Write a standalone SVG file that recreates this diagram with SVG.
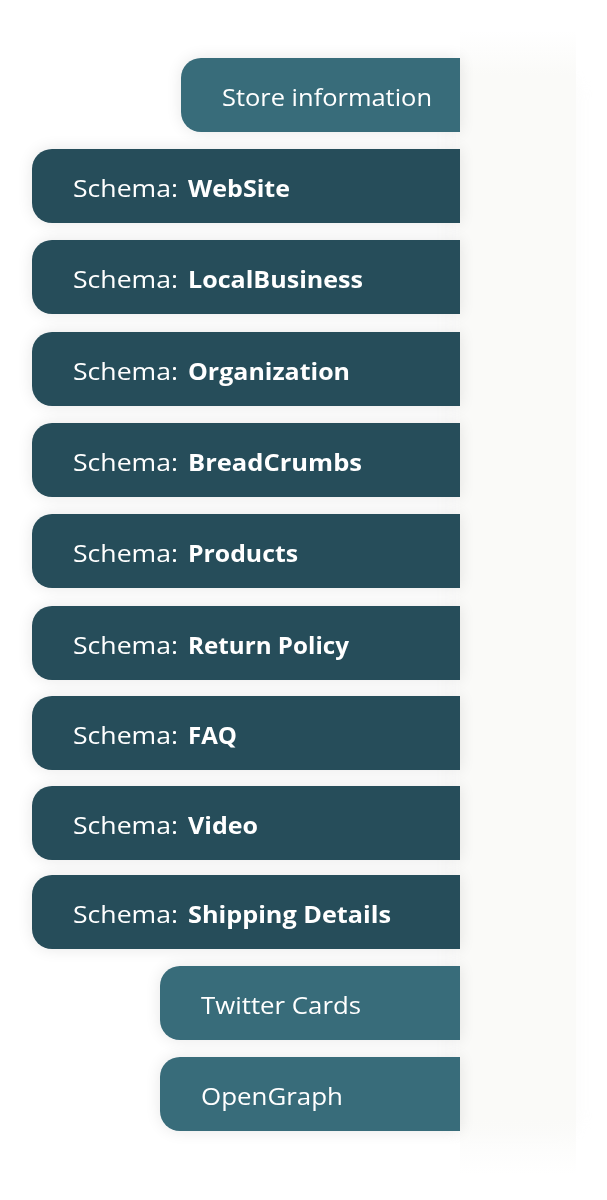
<svg xmlns="http://www.w3.org/2000/svg" width="607" height="1200" viewBox="0 0 607 1200">
<defs>
<filter id="sh" x="-20%" y="-40%" width="140%" height="180%"><feGaussianBlur in="SourceAlpha" stdDeviation="8"/><feComponentTransfer><feFuncA type="linear" slope="0.1"/></feComponentTransfer><feMerge><feMergeNode/><feMergeNode in="SourceGraphic"/></feMerge></filter>
<filter id="psh" x="-50%" y="-10%" width="200%" height="120%"><feGaussianBlur stdDeviation="10"/></filter>
<linearGradient id="pg" x1="0" y1="0" x2="0" y2="1">
<stop offset="0" stop-color="#fafaf8" stop-opacity="0"/>
<stop offset="0.04" stop-color="#fafaf8" stop-opacity="1"/>
<stop offset="0.95" stop-color="#fafaf8" stop-opacity="1"/>
<stop offset="1" stop-color="#fafaf8" stop-opacity="0"/>
</linearGradient>
</defs>
<style>
.light{fill:#386c7a}
.dark{fill:#274d5a}
text{font-family:"Open Sans","Liberation Sans",sans-serif;font-size:23px;fill:#ffffff}
.b{font-weight:700}
</style>
<rect width="607" height="1200" fill="#ffffff"/>
<rect x="450" y="80" width="126" height="1050" fill="#f4f4f2" opacity="0.4" filter="url(#psh)"/>
<rect x="460" y="30" width="116" height="1145" fill="url(#pg)"/>
<g id="store" filter="url(#sh)"><path class="light" d="M201,58H460V132H201A20,20 0 0 1 181,112V78A20,20 0 0 1 201,58Z"/><text x="222" y="106" textLength="210" lengthAdjust="spacingAndGlyphs">Store information</text></g>
<g id="website" filter="url(#sh)"><path class="dark" d="M52,149H460V223H52A20,20 0 0 1 32,203V169A20,20 0 0 1 52,149Z"/><text x="73" y="197" textLength="105" lengthAdjust="spacingAndGlyphs">Schema:</text><text class="b" x="188" y="197" textLength="102" lengthAdjust="spacingAndGlyphs">WebSite</text></g>
<g id="localbusiness" filter="url(#sh)"><path class="dark" d="M52,240H460V314H52A20,20 0 0 1 32,294V260A20,20 0 0 1 52,240Z"/><text x="73" y="288" textLength="105" lengthAdjust="spacingAndGlyphs">Schema:</text><text class="b" x="188" y="288" textLength="175" lengthAdjust="spacingAndGlyphs">LocalBusiness</text></g>
<g id="organization" filter="url(#sh)"><path class="dark" d="M52,332H460V406H52A20,20 0 0 1 32,386V352A20,20 0 0 1 52,332Z"/><text x="73" y="380" textLength="105" lengthAdjust="spacingAndGlyphs">Schema:</text><text class="b" x="188" y="380" textLength="162" lengthAdjust="spacingAndGlyphs">Organization</text></g>
<g id="breadcrumbs" filter="url(#sh)"><path class="dark" d="M52,423H460V497H52A20,20 0 0 1 32,477V443A20,20 0 0 1 52,423Z"/><text x="73" y="471" textLength="105" lengthAdjust="spacingAndGlyphs">Schema:</text><text class="b" x="188" y="471" textLength="174" lengthAdjust="spacingAndGlyphs">BreadCrumbs</text></g>
<g id="products" filter="url(#sh)"><path class="dark" d="M52,514H460V588H52A20,20 0 0 1 32,568V534A20,20 0 0 1 52,514Z"/><text x="73" y="562" textLength="105" lengthAdjust="spacingAndGlyphs">Schema:</text><text class="b" x="188" y="562" textLength="110" lengthAdjust="spacingAndGlyphs">Products</text></g>
<g id="returnpolicy" filter="url(#sh)"><path class="dark" d="M52,606H460V680H52A20,20 0 0 1 32,660V626A20,20 0 0 1 52,606Z"/><text x="73" y="654" textLength="105" lengthAdjust="spacingAndGlyphs">Schema:</text><text class="b" x="188" y="654" textLength="161" lengthAdjust="spacingAndGlyphs">Return Policy</text></g>
<g id="faq" filter="url(#sh)"><path class="dark" d="M52,696H460V770H52A20,20 0 0 1 32,750V716A20,20 0 0 1 52,696Z"/><text x="73" y="744" textLength="105" lengthAdjust="spacingAndGlyphs">Schema:</text><text class="b" x="188" y="744" textLength="49" lengthAdjust="spacingAndGlyphs">FAQ</text></g>
<g id="video" filter="url(#sh)"><path class="dark" d="M52,786H460V860H52A20,20 0 0 1 32,840V806A20,20 0 0 1 52,786Z"/><text x="73" y="834" textLength="105" lengthAdjust="spacingAndGlyphs">Schema:</text><text class="b" x="188" y="834" textLength="70" lengthAdjust="spacingAndGlyphs">Video</text></g>
<g id="shipping" filter="url(#sh)"><path class="dark" d="M52,875H460V949H52A20,20 0 0 1 32,929V895A20,20 0 0 1 52,875Z"/><text x="73" y="923" textLength="105" lengthAdjust="spacingAndGlyphs">Schema:</text><text class="b" x="188" y="923" textLength="203" lengthAdjust="spacingAndGlyphs">Shipping Details</text></g>
<g id="twitter" filter="url(#sh)"><path class="light" d="M180,966H460V1040H180A20,20 0 0 1 160,1020V986A20,20 0 0 1 180,966Z"/><text x="201" y="1014" textLength="160" lengthAdjust="spacingAndGlyphs">Twitter Cards</text></g>
<g id="opengraph" filter="url(#sh)"><path class="light" d="M180,1057H460V1131H180A20,20 0 0 1 160,1111V1077A20,20 0 0 1 180,1057Z"/><text x="201" y="1105" textLength="142" lengthAdjust="spacingAndGlyphs">OpenGraph</text></g>
<g id="connectors"/>
</svg>
